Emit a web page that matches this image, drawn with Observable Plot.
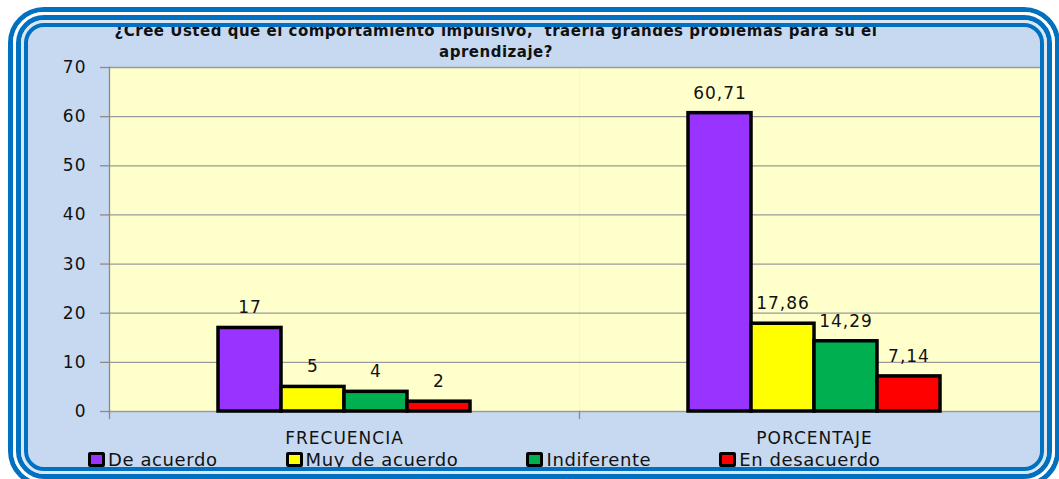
<!DOCTYPE html>
<html>
<head>
<meta charset="utf-8">
<script src="https://cdn.jsdelivr.net/npm/d3@7"></script>
<script src="https://cdn.jsdelivr.net/npm/@observablehq/plot@0.6"></script>
<style>
  html, body { margin: 0; padding: 0; background: #ffffff; }
  #wrap { position: relative; width: 1059px; height: 479px; overflow: hidden; font-family: "DejaVu Sans", Verdana, sans-serif; }
  #fill { position: absolute; left: 28px; top: 27px; width: 1012px; height: 440px; background: #C6D9F1; border-radius: 16px; }
  #chart { position: absolute; left: 0; top: 0; }
  #title { position: absolute; left: 0; top: 21px; width: 992px; text-align: center; font-weight: bold; font-size: 15px; letter-spacing: 0.5px; line-height: 21px; color: #111; white-space: pre; }
  #legend { position: absolute; left: 88px; top: 449px; display: flex; align-items: center; font-size: 18px; letter-spacing: 0.6px; color: #111; }
  .item { display: flex; align-items: center; margin-right: 68px; }
  .sw { width: 11px; height: 9px; border: 3px solid #000; border-radius: 2px; margin-right: 3px; }
  .ring { box-sizing: border-box; width: 100%; height: 100%; border-style: solid; background: transparent; }
  #rings { position: absolute; left: 8px; top: 7px; width: 1052px; height: 480px; pointer-events: none; }
</style>
</head>
<body>
<div id="wrap">
  <div id="fill"></div>
  <div id="chart"></div>
  <div id="title"></div>
  <div id="legend"></div>
  <div id="rings">
    <div class="ring" style="border-width:5px;border-color:#0070C0;border-radius:36px;">
      <div class="ring" style="border-width:3px;border-color:#ffffff;border-radius:31px;">
        <div class="ring" style="border-width:5px;border-color:#0070C0;border-radius:28px;">
          <div class="ring" style="border-width:3px;border-color:#DCE6F2;border-radius:23px;">
            <div class="ring" style="border-width:4px;border-color:#0070C0;border-radius:20px;"></div>
          </div>
        </div>
      </div>
    </div>
  </div>
</div>
<script>
const titulo = ["¿Cree Usted que el comportamiento impulsivo,  traería grandes problemas para su el", "aprendizaje?"];
const grupos = ["FRECUENCIA", "PORCENTAJE"];
const categorias = ["De acuerdo", "Muy de acuerdo", "Indiferente", "En desacuerdo"];
const frecuencia = [17, 5, 4, 2];
const porcentaje = [60.71, 17.86, 14.29, 7.14];
const colores = ["#9933FF", "#FFFF00", "#00B050", "#FF0000"];
const yTicks = [0, 10, 20, 30, 40, 50, 60, 70];

const filas = [];
categorias.forEach((c, i) => filas.push({grupo: grupos[0], cat: c, valor: frecuencia[i]}));
categorias.forEach((c, i) => filas.push({grupo: grupos[1], cat: c, valor: porcentaje[i]}));
const fmt = v => String(v).replace(".", ",");

const chart = Plot.plot({
  width: 1059,
  height: 479,
  marginLeft: 109,
  marginRight: 10,
  marginTop: 67,
  marginBottom: 68,
  style: {fontFamily: "DejaVu Sans, Verdana, sans-serif", fontSize: "17px", letterSpacing: "1px", color: "#111", background: "transparent", overflow: "visible"},
  fx: {domain: grupos, padding: 0, axis: null},
  x: {domain: categorias, paddingInner: 0, paddingOuter: 1.686, axis: null},
  y: {domain: [0, 70], axis: null},
  color: {domain: categorias, range: colores},
  marks: [
    Plot.frame({fill: "#FFFFCC", stroke: null}),
    Plot.gridY(yTicks, {stroke: "#9a9a9a", strokeOpacity: 1, strokeWidth: 1.3}),
    Plot.axisY(yTicks, {tickSize: 9, tickPadding: 14, stroke: "#8a8a8a", strokeOpacity: 1, strokeWidth: 1.3, label: null, tickFormat: d => d}),
    Plot.frame({anchor: "left", stroke: "#8a8a8a", strokeOpacity: 1, strokeWidth: 1.3, facet: "super"}),
    Plot.frame({anchor: "left", stroke: "#8a8a8a", strokeOpacity: 1, strokeWidth: 1.3, insetTop: 344, insetBottom: -7}),
    Plot.barY(filas, {fx: "grupo", x: "cat", y: "valor", fill: "cat", stroke: "#000", strokeWidth: 3.5}),
    Plot.text(filas, {fx: "grupo", x: "cat", y: "valor", text: d => fmt(d.valor), dy: -20, fill: "#111"}),
    Plot.axisFx({anchor: "bottom", tickSize: 0, tickPadding: 20, label: null, fill: "#111"})
  ]
});
document.getElementById("chart").appendChild(chart);

document.getElementById("title").textContent = titulo.join("\n");

const legend = d3.select("#legend");
categorias.forEach((c, i) => {
  const it = legend.append("div").attr("class", "item");
  it.append("div").attr("class", "sw").style("background", colores[i]);
  it.append("span").text(c);
});
</script>
</body>
</html>
